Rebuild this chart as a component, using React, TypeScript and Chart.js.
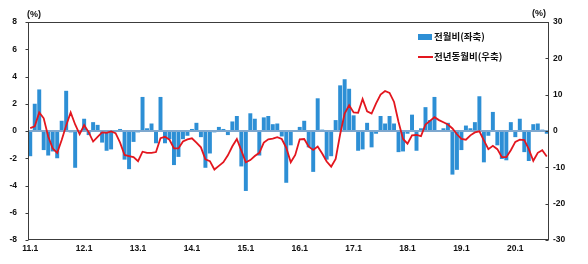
import React, { useEffect, useRef } from 'react';
import { Chart, registerables } from 'chart.js';

Chart.register(...registerables);

// Category labels: monthly, 2011.1 – 2020.8 (YY.M)
const months: string[] = [];
for (let y = 11; y <= 20; y++) {
  for (let m = 1; m <= 12; m++) {
    if (y === 20 && m > 8) break;
    months.push(`${y}.${m}`);
  }
}

// 전월비 (left axis, %)
const momChange: number[] = [
  -1.85, 2.0, 3.05, -1.4, -1.8, -1.5, -2.0, 0.75, 2.95, -0.1, -2.7, 0.0,
  0.9, -0.3, 0.65, 0.45, -0.85, -1.45, -1.35, 0.0, 0.15, -2.1, -2.8, -0.8,
  -0.1, 2.5, 0.2, 0.55, -0.9, 2.5, -0.9, -0.6, -2.5, -1.9, -0.6, -0.35,
  0.15, 0.6, -0.45, -2.7, -1.65, -0.1, 0.3, 0.15, -0.3, 0.7, 1.1, -2.6,
  -4.4, 1.3, 0.9, -1.8, 1.0, 1.1, 0.5, 0.55, -0.4, -3.8, -1.05, 0.0,
  0.3, 0.75, -1.2, -3.0, 2.4, 0.1, -2.1, -1.85, 0.8, 3.35, 3.8, 3.1,
  1.15, -1.45, -1.35, 0.6, -1.2, -0.2, 1.1, 0.55, 1.1, 0.55, -1.55, -1.5,
  -0.2, 1.2, -1.45, 0.2, 1.75, 0.8, 2.5, 0.0, 0.2, 0.6, -3.2, -2.85,
  -1.4, 0.4, 0.2, 0.65, 2.55, -2.3, -0.35, 1.4, -1.05, -2.05, -2.15, 0.65,
  -0.45, 0.9, -1.55, -2.2, 0.5, 0.55, 0.1, -0.2,
];

// 전년동월비 (right axis, %)
const yoyChange: number[] = [
  0.8, 1.3, 5.1, 3.5, -1.5, -4.8, -6.0, -2.5, 1.5, 5.1, 1.8, -0.9,
  1.6, -0.3, -2.9, -1.6, -0.4, -0.5, -0.1, -0.6, -3.2, -6.6, -6.9, -7.2,
  -8.3, -5.7, -6.0, -6.0, -5.8, -2.0, -1.6, -2.4, -4.8, -4.8, -2.9, -2.3,
  -2.0, -3.2, -4.5, -7.8, -8.3, -10.6, -9.6, -8.6, -6.7, -4.2, -2.2, -5.4,
  -8.6, -8.0, -6.9, -6.0, -3.2, -2.3, -2.1, -1.7, -2.2, -4.6, -8.6, -6.6,
  -2.3, -2.2, -4.3, -5.2, -4.3, -6.2, -8.4, -9.8, -7.7, -0.9, 4.8, 7.1,
  5.1, 5.0, 8.8, 5.4, 4.8, 7.6, 10.0, 11.0, 10.5, 8.0, 2.5, -2.2,
  -3.5, -1.2, -1.1, -1.4, 1.8, 2.8, 3.8, 3.0, 2.4, 1.8, 0.7, -0.9,
  -2.2, -2.4, -1.2, -0.4, -0.1, -2.6, -5.0, -4.1, -5.0, -7.2, -7.2, -5.3,
  -3.0, -2.4, -2.5, -5.0, -8.2, -6.0, -5.3, -7.0,
];

const leftAxis = { min: -8, max: 8, step: 2 };
const rightAxis = { min: -30, max: 30, step: 10 };

const seriesNames = ['전월비(좌축)', '전년동월비(우축)'];
const unitLabel = '(%)';

const BAR_COLOR = '#2d8fd5';
const LINE_COLOR = '#e3161e';
const AXIS_COLOR = '#3c3c3c';
const ZERO_COLOR = '#7ea8cf';
const LATIN = "'Liberation Sans', Arial, sans-serif";
const KOREAN = "'Noto Sans CJK KR', 'Liberation Sans', sans-serif";

const boxPlugin = {
  id: 'plotBox',
  afterDatasetsDraw(chart: any) {
    const { ctx, chartArea: a, scales } = chart;
    ctx.save();
    ctx.strokeStyle = AXIS_COLOR;
    ctx.lineWidth = 1;
    const l = Math.round(a.left) + 0.5;
    const r = Math.round(a.right) - 0.5;
    const t = Math.round(a.top) + 0.5;
    const b = Math.round(a.bottom) - 0.5;
    ctx.strokeRect(l, t, r - l, b - t);
    // tick marks
    ctx.beginPath();
    scales.y.ticks.forEach((tk: any) => {
      const py = Math.round(scales.y.getPixelForValue(tk.value)) + 0.5;
      ctx.moveTo(l - 3, py);
      ctx.lineTo(l, py);
    });
    scales.y1.ticks.forEach((tk: any) => {
      const py = Math.round(scales.y1.getPixelForValue(tk.value)) + 0.5;
      ctx.moveTo(r - 3, py);
      ctx.lineTo(r, py);
    });
    ctx.stroke();
    ctx.restore();
  },
};

export default function App() {
  const canvasRef = useRef<HTMLCanvasElement | null>(null);

  useEffect(() => {
    const canvas = canvasRef.current;
    if (!canvas) return;
    const tickFont = { family: LATIN, size: 8.5, weight: 'bold' as const };
    const chart = new Chart(canvas, {
      type: 'bar',
      data: {
        labels: months,
        datasets: [
          {
            type: 'line' as const,
            label: seriesNames[1],
            data: yoyChange,
            yAxisID: 'y1',
            borderColor: LINE_COLOR,
            backgroundColor: LINE_COLOR,
            borderWidth: 1.8,
            pointRadius: 0,
            tension: 0,
            order: 0,
          },
          {
            type: 'bar' as const,
            label: seriesNames[0],
            data: momChange,
            yAxisID: 'y',
            backgroundColor: BAR_COLOR,
            borderWidth: 0,
            categoryPercentage: 1,
            barPercentage: 0.88,
            order: 1,
          },
        ],
      },
      options: {
        responsive: false,
        animation: false,
        devicePixelRatio: 1,
        layout: { padding: { top: 22, left: 0, right: 0, bottom: 0 } },
        plugins: {
          legend: { display: false },
          tooltip: { enabled: false },
          title: { display: false },
        },
        scales: {
          x: {
            type: 'category',
            grid: { display: false, drawTicks: false },
            border: { display: false },
            ticks: {
              autoSkip: false,
              maxRotation: 0,
              minRotation: 0,
              padding: 4,
              color: '#111',
              font: tickFont,
              callback: (_v: any, i: number) => (months[i].endsWith('.1') && !months[i].endsWith('.11') ? months[i] : ''),
            },
            afterFit: (s: any) => {
              s.height = 24;
            },
          },
          y: {
            position: 'left',
            min: leftAxis.min,
            max: leftAxis.max,
            border: { display: false },
            grid: {
              drawTicks: false,
              color: (c: any) => (c.tick && c.tick.value === 0 ? ZERO_COLOR : 'rgba(0,0,0,0)'),
              lineWidth: (c: any) => (c.tick && c.tick.value === 0 ? 2 : 0),
            },
            ticks: {
              stepSize: leftAxis.step,
              padding: 11,
              color: '#111',
              font: tickFont,
            },
            afterFit: (s: any) => {
              s.width = 28;
            },
          },
          y1: {
            position: 'right',
            min: rightAxis.min,
            max: rightAxis.max,
            border: { display: false },
            grid: { drawOnChartArea: false, drawTicks: false },
            ticks: {
              stepSize: rightAxis.step,
              padding: 4,
              color: '#111',
              font: tickFont,
            },
            afterFit: (s: any) => {
              s.width = 39;
            },
          },
        },
      },
      plugins: [boxPlugin],
    });
    return () => chart.destroy();
  }, []);

  const textBase: React.CSSProperties = {
    position: 'absolute',
    fontWeight: 'bold',
    color: '#111',
    whiteSpace: 'nowrap',
    lineHeight: 1,
  };

  return (
    <div style={{ position: 'absolute', left: 0, top: 0, width: 588, height: 264, background: '#fff' }}>
      <canvas ref={canvasRef} width={588} height={264} style={{ width: 588, height: 264, display: 'block' }} />
      <div style={{ ...textBase, left: 27, top: 10, fontFamily: LATIN, fontSize: 9 }}>{unitLabel}</div>
      <div style={{ ...textBase, left: 532, top: 9, fontFamily: LATIN, fontSize: 9 }}>{unitLabel}</div>
      <div style={{ position: 'absolute', left: 418, top: 34, width: 14, height: 6, background: BAR_COLOR }} />
      <div style={{ ...textBase, left: 434, top: 32, fontFamily: KOREAN, fontSize: 9.5 }}>{seriesNames[0]}</div>
      <div style={{ position: 'absolute', left: 418, top: 56, width: 15, height: 2, background: LINE_COLOR }} />
      <div style={{ ...textBase, left: 434, top: 52, fontFamily: KOREAN, fontSize: 9.5 }}>{seriesNames[1]}</div>
    </div>
  );
}
